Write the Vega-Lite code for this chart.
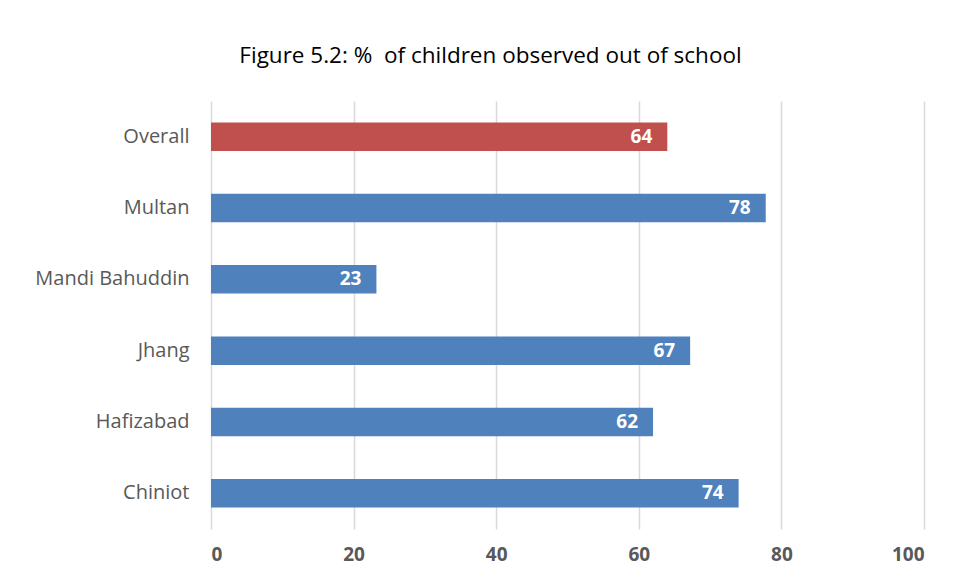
{
  "$schema": "https://vega.github.io/schema/vega-lite/v6.json",
  "width": 713,
  "height": 428,
  "autosize": {"type": "none"},
  "padding": {"left": 211, "top": 101, "right": 34, "bottom": 55},
  "background": "white",
  "title": {
    "text": "Figure 5.2: %\u00a0 of children observed out of school",
    "font": "Open Sans",
    "fontSize": 22.5,
    "fontWeight": "normal",
    "color": "#000000",
    "anchor": "middle",
    "dx": -77,
    "offset": 34
  },
  "data": {
    "values": [
      {"district": "Overall", "pct": 64, "group": "overall"},
      {"district": "Multan", "pct": 77.8, "group": "district"},
      {"district": "Mandi Bahuddin", "pct": 23.2, "group": "district"},
      {"district": "Jhang", "pct": 67.2, "group": "district"},
      {"district": "Hafizabad", "pct": 62, "group": "district"},
      {"district": "Chiniot", "pct": 74, "group": "district"}
    ]
  },
  "encoding": {
    "y": {
      "field": "district",
      "type": "nominal",
      "sort": null,
      "scale": {"paddingInner": 0.6, "paddingOuter": 0.3},
      "axis": {
        "title": null,
        "domain": false,
        "ticks": false,
        "labelFont": "Open Sans",
        "labelFontSize": 20,
        "labelColor": "#595959",
        "labelPadding": 22
      }
    },
    "x": {
      "field": "pct",
      "type": "quantitative",
      "scale": {"domain": [0, 100], "nice": false},
      "axis": {
        "title": null,
        "values": [0, 20, 40, 60, 80, 100],
        "domain": false,
        "ticks": false,
        "grid": true,
        "gridColor": "#d9d9d9",
        "gridWidth": 1.5,
        "labelFont": "Open Sans",
        "labelFontSize": 19,
        "labelFontWeight": "bold",
        "labelColor": "#595959",
        "labelPadding": 16
      }
    }
  },
  "layer": [
    {
      "mark": {"type": "bar"},
      "encoding": {
        "color": {
          "field": "group",
          "type": "nominal",
          "scale": {"domain": ["overall", "district"], "range": ["#C0504D", "#4F81BD"]},
          "legend": null
        }
      }
    },
    {
      "mark": {
        "type": "text",
        "align": "right",
        "baseline": "middle",
        "dx": -15,
        "font": "Open Sans",
        "fontSize": 19,
        "fontWeight": "bold",
        "color": "white"
      },
      "encoding": {
        "text": {"field": "pct", "type": "quantitative", "format": ".0f"}
      }
    }
  ],
  "config": {"view": {"stroke": null}}
}
